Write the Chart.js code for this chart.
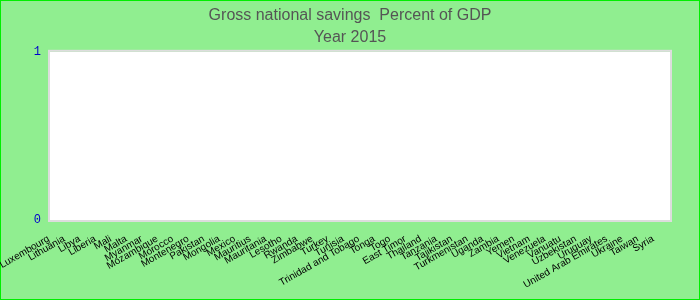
<!DOCTYPE html>
<html lang="en">
<head>
  <meta charset="UTF-8" />
  <title>Gross national savings</title>
  <script src="https://cdn.jsdelivr.net/npm/chart.js"></script>
  <style>
    body { margin: 0; background: #90ee90; }
    canvas { display: block; }
  </style>
</head>
<body>
  <canvas id="savingsChart" width="700" height="300"></canvas>

  <script>
    const countries = [
      'Luxembourg', 'Lithuania', 'Libya', 'Liberia', 'Mali', 'Malta', 'Myanmar', 'Mozambique',
      'Morocco', 'Montenegro', 'Pakistan', 'Mongolia', 'Mexico', 'Mauritius', 'Mauritania',
      'Lesotho', 'Rwanda', 'Zimbabwe', 'Turkey', 'Tunisia', 'Trinidad and Tobago', 'Tonga',
      'Togo', 'East Timor', 'Thailand', 'Tanzania', 'Tajikistan', 'Turkmenistan', 'Uganda',
      'Zambia', 'Yemen', 'Vietnam', 'Venezuela', 'Vanuatu', 'Uzbekistan', 'Uruguay',
      'United Arab Emirates', 'Ukraine', 'Taiwan', 'Syria'
    ];
    // no values are drawn in the reference for 2015
    const savings = countries.map(() => null);
    const titleLines = ['Gross national savings  Percent of GDP', 'Year 2015'];

    const background = {
      id: 'background',
      beforeDraw(chart) {
        const { ctx, chartArea: a, width, height } = chart;
        ctx.save();
        ctx.fillStyle = '#90ee90';
        ctx.fillRect(0, 0, width, height);
        ctx.fillStyle = '#ffffff';
        ctx.fillRect(a.left, a.top, a.right - a.left, a.bottom - a.top);
        ctx.strokeStyle = '#dddddd';
        ctx.lineWidth = 2;
        ctx.strokeRect(a.left - 1, a.top - 1, a.right - a.left + 2, a.bottom - a.top + 2);
        ctx.strokeStyle = '#00ee00';
        ctx.lineWidth = 2;
        ctx.strokeRect(0, 0, width, height);
        ctx.restore();
      }
    };

    new Chart(document.getElementById('savingsChart'), {
      type: 'bar',
      data: {
        labels: countries,
        datasets: [{ label: 'Savings', data: savings, backgroundColor: '#3366cc' }]
      },
      options: {
        responsive: false,
        animation: false,
        layout: { padding: 0 },
        plugins: {
          legend: { display: false },
          tooltip: { enabled: false },
          title: {
            display: true,
            text: titleLines,
            color: '#555555',
            font: { family: 'Liberation Sans', size: 16, weight: 'normal', lineHeight: 1.4 },
            padding: { top: 4, bottom: 3 }
          }
        },
        scales: {
          x: {
            grid: { display: false },
            border: { display: false },
            ticks: {
              autoSkip: false,
              minRotation: 30,
              maxRotation: 30,
              labelOffset: -9,
              padding: 5,
              color: '#000000',
              font: { family: 'Liberation Sans', size: 10 }
            },
            afterFit(scale) { scale.height = 80; }
          },
          y: {
            min: 0,
            max: 1,
            grid: { display: false },
            border: { display: false },
            ticks: {
              stepSize: 1,
              color: '#0000cc',
              padding: 1,
              font: { family: 'Liberation Mono', size: 12 }
            },
            afterFit(scale) { scale.width = 50; }
          },
          // empty axis that keeps the right-hand margin
          yRight: {
            position: 'right',
            grid: { display: false },
            border: { display: false },
            ticks: { display: false },
            afterFit(scale) { scale.width = 30; }
          }
        }
      },
      plugins: [background]
    });
  </script>
</body>
</html>
